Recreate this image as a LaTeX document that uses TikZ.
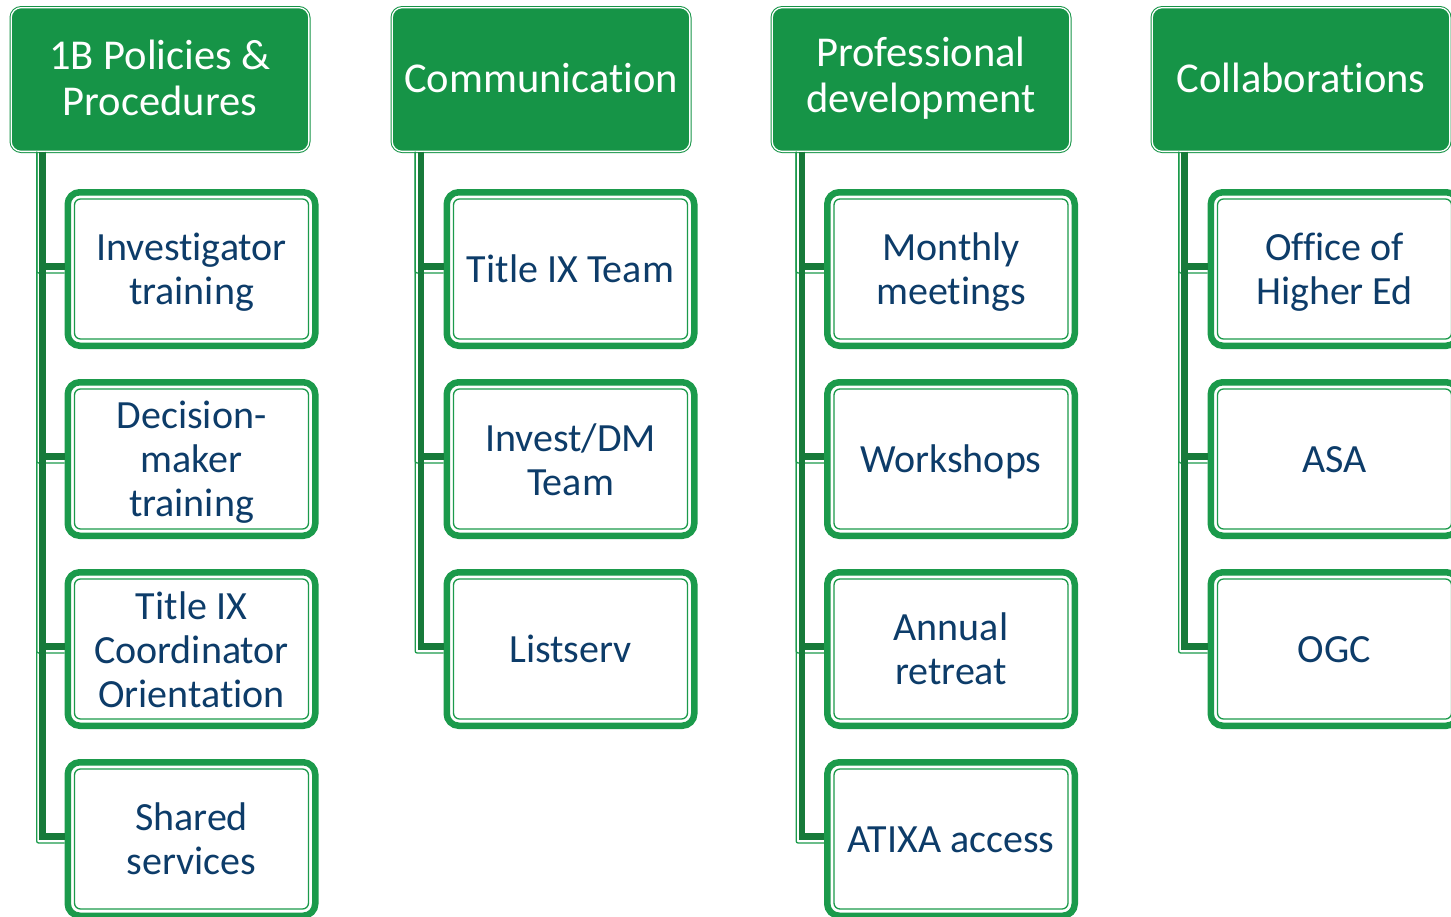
\documentclass[tikz,border=0pt]{standalone}
\usepackage{fontspec}
\setmainfont{Carlito}[Ligatures=NoCommon]
\definecolor{hdr}{HTML}{169447}
\definecolor{bgrn}{HTML}{1B9A4B}
\definecolor{cdark}{HTML}{177A3A}
\definecolor{navy}{HTML}{0D3C69}
\tikzset{
 hdrbox/.style={rectangle, rounded corners=10pt, draw=hdr, double=white, double distance=1.3pt, line width=1pt, fill=hdr, minimum width=297.7pt, minimum height=143.7pt, inner sep=0pt},
 hdrtext/.style={text=white, align=center, font=\fontsize{42.5}{45.5}\selectfont, inner sep=0pt},
 childbox/.style={rectangle, rounded corners=12pt, draw=bgrn, line width=6.5pt, fill=white, minimum width=247.5pt, minimum height=153.5pt, inner sep=0pt},
 childtext/.style={text=navy, align=center, font=\fontsize{40}{44}\selectfont, inner sep=0pt, execute at begin node=\strut, execute at end node=\strut},
 innerline/.style={draw=bgrn, line width=1.3pt, rounded corners=6pt},
 conn/.style={draw=cdark, line width=6.5pt},
 connthin/.style={draw=bgrn, line width=1.3pt, rounded corners=2pt},
}
\newcommand{\hdrnode}[3]{%
 \node[hdrbox] (#1) at #2 {};
 \node[hdrtext] (#1t) at ([yshift=1.5pt]#1.center) {#3};}
\newcommand{\cbox}[4][-4.5]{%
 \node[childbox] (#2) at #3 {};
 \draw[innerline] ([shift={(10,10)}]#2.north west) rectangle ([shift={(-10,-10)}]#2.south east);
 \node[childtext] (#2t) at ([yshift=#1pt]#2.center) {#4};}
\newcommand{\branches}[3]{% header, xoffset, list of children
 \foreach \c in {#3} {\draw[connthin] ([xshift=#2pt-6pt]#1.south west) |- ([yshift=-4pt]\c.west);}
 \foreach \c in {#3} {\draw[conn] ([xshift=#2pt]#1.south west) |- ([yshift=2.5pt]\c.west);}}
\begin{document}
\begin{tikzpicture}[x=1pt,y=-1pt]
\useasboundingbox (0,0) rectangle (1451,916);
\clip (0,0) rectangle (1451,916);
% headers
\hdrnode{h1}{(160,79.5)}{1B Policies \&\\Procedures}
\hdrnode{h2}{(541,79.5)}{Communication}
\hdrnode{h3}{(921,79.5)}{Professional\\development}
\hdrnode{h4}{(1301,79.5)}{Collaborations}
% column 1
\cbox[-6.5]{c11}{(191.5,269)}{Investigator\\training}
\cbox[-6.5]{c12}{(191.5,459)}{Decision-\\maker\\training}
\cbox[-7]{c13}{(191.5,649)}{Title IX\\Coordinator\\Orientation}
\cbox[-6.5]{c14}{(191.5,839)}{Shared\\services}
% column 2
\cbox{c21}{(570.5,269)}{Title IX Team}
\cbox[-7]{c22}{(570.5,459)}{Invest/DM\\Team}
\cbox{c23}{(570.5,649)}{Listserv}
% column 3
\cbox[-6.5]{c31}{(951,269)}{Monthly\\meetings}
\cbox{c32}{(951,459)}{Workshops}
\cbox[-6.5]{c33}{(951,649)}{Annual\\retreat}
\cbox{c34}{(951,839)}{ATIXA access}
% column 4
\cbox[-6.5]{c41}{(1334.5,269)}{Office of\\Higher Ed}
\cbox{c42}{(1334.5,459)}{ASA}
\cbox{c43}{(1334.5,649)}{OGC}
% connectors
\branches{h1}{32}{c11,c12,c13,c14}
\branches{h2}{29.5}{c21,c22,c23}
\branches{h3}{30.5}{c31,c32,c33,c34}
\branches{h4}{33}{c41,c42,c43}
\end{tikzpicture}
\end{document}
